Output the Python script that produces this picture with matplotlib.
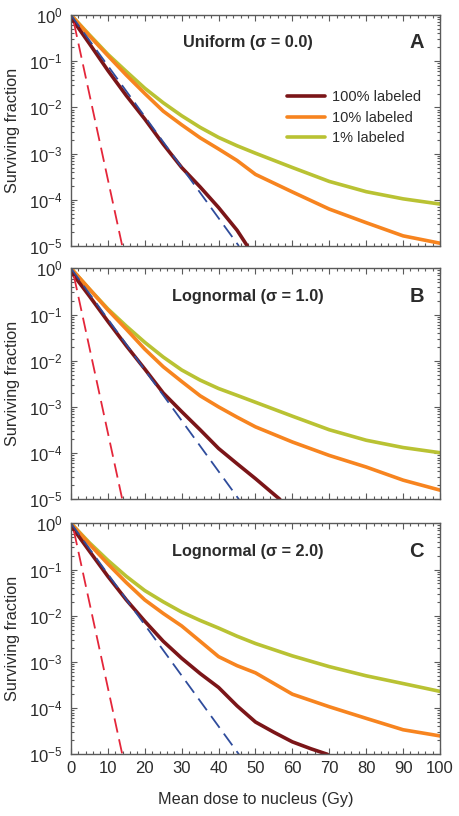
"""Surviving fraction vs mean nuclear dose — three panels (uniform, lognormal σ=1, σ=2)."""

import matplotlib
matplotlib.use("Agg")
import matplotlib.pyplot as plt
from matplotlib.ticker import LogLocator, MultipleLocator, NullFormatter

plt.rcParams["font.family"] = ["Liberation Sans", "DejaVu Sans"]
plt.rcParams["mathtext.fontset"] = "custom"
plt.rcParams["mathtext.rm"] = "Liberation Sans"
plt.rcParams["mathtext.it"] = "Liberation Sans:italic"
plt.rcParams["mathtext.bf"] = "Liberation Sans:bold"

# --- data ---
DOSE = [0, 5, 10, 15, 20, 25, 30, 35, 40, 45, 50, 60, 70, 80, 90, 100]

DOSE_A_100 = [0, 5, 10, 15, 20, 25, 30, 35, 40, 45, 47.8]
SF_A_100 = [0.89, 0.24, 0.063, 0.018, 5.6e-3, 1.6e-3, 5.0e-4, 1.9e-4, 6.8e-5, 2.2e-5, 1.0e-5]
SF_A_10 = [1.0, 0.355, 0.132, 0.050, 0.020, 8.3e-3, 4.2e-3, 2.2e-3, 1.26e-3, 7.1e-4,
           3.55e-4, 1.48e-4, 6.3e-5, 3.2e-5, 1.66e-5, 1.15e-5]
SF_A_1 = [1.0, 0.372, 0.141, 0.060, 0.026, 0.0126, 6.6e-3, 3.7e-3, 2.24e-3, 1.48e-3,
          1.02e-3, 5.0e-4, 2.5e-4, 1.5e-4, 1.05e-4, 8.1e-5]

DOSE_B_100 = [0, 5, 10, 15, 20, 25, 30, 35, 40, 45, 50, 56.6]
SF_B_100 = [0.85, 0.25, 0.071, 0.021, 6.6e-3, 2.0e-3, 7.9e-4, 3.2e-4, 1.26e-4, 5.9e-5, 2.8e-5, 1.0e-5]
SF_B_10 = [1.0, 0.355, 0.126, 0.048, 0.0178, 7.4e-3, 3.55e-3, 1.74e-3, 1.0e-3, 6.0e-4,
           3.7e-4, 1.74e-4, 8.9e-5, 5.0e-5, 2.6e-5, 1.58e-5]
SF_B_1 = [1.0, 0.355, 0.132, 0.056, 0.025, 0.012, 6.3e-3, 3.8e-3, 2.5e-3, 1.78e-3,
          1.26e-3, 6.3e-4, 3.2e-4, 1.9e-4, 1.32e-4, 1.02e-4]

DOSE_C_100 = [0, 5, 10, 15, 20, 25, 30, 35, 40, 45, 50, 55, 60, 65, 69.5]
SF_C_100 = [0.89, 0.25, 0.071, 0.022, 7.6e-3, 2.8e-3, 1.2e-3, 5.6e-4, 2.8e-4, 1.12e-4,
            5.0e-5, 3.0e-5, 1.86e-5, 1.32e-5, 1.0e-5]
SF_C_10 = [1.0, 0.355, 0.132, 0.052, 0.022, 0.0112, 6.0e-3, 2.8e-3, 1.3e-3, 8.3e-4,
           5.8e-4, 2.0e-4, 1.07e-4, 6.0e-5, 3.4e-5, 2.5e-5]
SF_C_1 = [1.0, 0.38, 0.158, 0.071, 0.035, 0.020, 0.012, 7.9e-3, 5.4e-3, 3.6e-3,
          2.5e-3, 1.35e-3, 7.9e-4, 5.0e-4, 3.4e-4, 2.3e-4]

# dashed reference lines (same in every panel)
BLUE_DOSE = [0, 45.5]
BLUE_SF = [1.0, 1.0e-5]
RED_DOSE = [0.8, 13.9]
RED_SF = [0.68, 1.0e-5]

PANELS = [
    ("Uniform (σ = 0.0)", "A", DOSE_A_100, SF_A_100, SF_A_10, SF_A_1),
    ("Lognormal (σ = 1.0)", "B", DOSE_B_100, SF_B_100, SF_B_10, SF_B_1),
    ("Lognormal (σ = 2.0)", "C", DOSE_C_100, SF_C_100, SF_C_10, SF_C_1),
]
LABELS = ["100% labeled", "10% labeled", "1% labeled"]

C100 = "#7b1518"
C10 = "#f7841f"
C1 = "#b9c233"
CBLUE = "#2f4c9c"
CRED = "#e4263a"
FRAME = "#5a5a5a"
TEXT = "#2b2b2b"

# axes boxes in figure fractions (left, bottom, width, height)
BOXES = [
    (0.1543, 0.6985, 0.8022, 0.2831),
    (0.1543, 0.3881, 0.8022, 0.2831),
    (0.1543, 0.0756, 0.8022, 0.2831),
]


def style_axes(ax, bottom):
    ax.set_yscale("log")
    ax.set_xlim(0, 100)
    ax.set_ylim(1e-5, 1)
    ax.xaxis.set_major_locator(MultipleLocator(10))
    ax.xaxis.set_minor_locator(MultipleLocator(2))
    ax.yaxis.set_major_locator(LogLocator(base=10, numticks=10))
    ax.yaxis.set_minor_locator(LogLocator(base=10, subs=range(2, 10), numticks=10))
    ax.yaxis.set_minor_formatter(NullFormatter())
    ax.tick_params(which="both", direction="in", top=True, right=True,
                   color=FRAME, labelcolor=TEXT, labelsize=12, width=0.8)
    ax.tick_params(which="major", length=4)
    ax.tick_params(which="minor", length=2.3)
    ax.tick_params(axis="x", pad=5)
    ax.tick_params(axis="y", pad=6)
    if not bottom:
        ax.tick_params(axis="x", labelbottom=False)
    for sp in ax.spines.values():
        sp.set_color(FRAME)
        sp.set_linewidth(1.0)
    ax.set_ylabel("Surviving fraction", fontsize=11.7, color=TEXT, va="center")
    ax.yaxis.set_label_coords(-0.158, 0.5)


def main() -> None:
    fig = plt.figure(figsize=(4.6, 8.16), dpi=100)
    for i, (title, letter, d100, s100, s10, s1) in enumerate(PANELS):
        ax = fig.add_axes(BOXES[i])
        ax.plot(DOSE, s1, color=C1, lw=2.6, solid_capstyle="round", label=LABELS[2])
        ax.plot(DOSE, s10, color=C10, lw=2.6, solid_capstyle="round", label=LABELS[1])
        ax.plot(d100, s100, color=C100, lw=2.6, solid_capstyle="round", label=LABELS[0])
        ax.plot(RED_DOSE, RED_SF, color=CRED, lw=1.3, dashes=(8, 3.8))
        ax.plot(BLUE_DOSE, BLUE_SF, color=CBLUE, lw=1.3, dashes=(8, 4))
        style_axes(ax, bottom=(i == 2))
        ax.text(0.48, 0.879, title, transform=ax.transAxes, ha="center", va="center",
                fontsize=11.7, fontweight="bold", color=TEXT)
        ax.text(0.937, 0.879, letter, transform=ax.transAxes, ha="center", va="center",
                fontsize=14.5, fontweight="bold", color=TEXT)
        if i == 0:
            h, l = ax.get_legend_handles_labels()
            ax.legend(h[::-1], l[::-1], loc="upper left", bbox_to_anchor=(0.585, 0.674),
                      frameon=False, fontsize=10.5, handlelength=2.6, handletextpad=0.5,
                      labelspacing=0.45, borderpad=0, borderaxespad=0,
                      labelcolor=TEXT)
    fig.axes[-1].set_xlabel("Mean dose to nucleus (Gy)", fontsize=11.7, color=TEXT, labelpad=11)
    fig.savefig("out.png", dpi=100)
    print("[saved] out.png")


if __name__ == "__main__":
    main()
